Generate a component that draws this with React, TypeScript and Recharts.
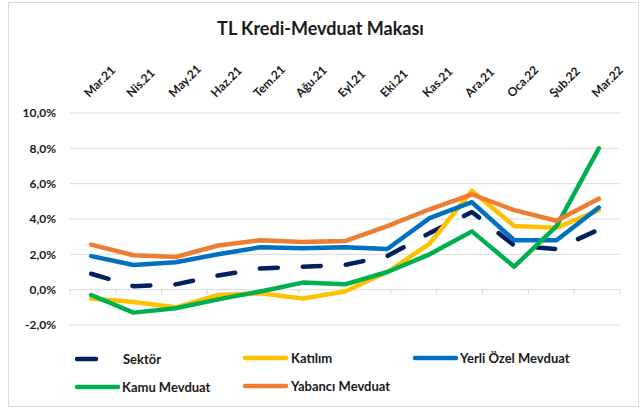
import {
  ComposedChart,
  Line,
  XAxis,
  YAxis,
  CartesianGrid,
  ReferenceLine,
  Legend,
} from "recharts";

const months = [
  "Mar.21", "Nis.21", "May.21", "Haz.21", "Tem.21", "Ağu.21", "Eyl.21",
  "Eki.21", "Kas.21", "Ara.21", "Oca.22", "Şub.22", "Mar.22",
];
const sektor = [0.9, 0.2, 0.3, 0.8, 1.2, 1.3, 1.4, 1.9, 3.2, 4.4, 2.5, 2.3, 3.4];
const katilim = [-0.5, -0.7, -1.0, -0.3, -0.2, -0.5, -0.1, 1.0, 2.6, 5.6, 3.6, 3.5, 4.5];
const yerliOzel = [1.9, 1.4, 1.55, 2.0, 2.4, 2.35, 2.4, 2.3, 4.05, 4.95, 2.8, 2.8, 4.65];
const kamu = [-0.3, -1.3, -1.05, -0.55, -0.1, 0.4, 0.3, 1.0, 2.0, 3.3, 1.3, 3.6, 8.0];
const yabanci = [2.55, 1.95, 1.85, 2.5, 2.8, 2.7, 2.75, 3.6, 4.55, 5.4, 4.5, 3.9, 5.15];
const yTicks = [-2, 0, 2, 4, 6, 8, 10];

const FONT = "Lato, Carlito, Calibri, 'Noto Sans', sans-serif";
const TEXT = "#1a1a1a";
const GRID = "#d9d9d9";

const SERIES = [
  { key: "sektor", name: "Sektör", color: "#002060", dash: "18 25" },
  { key: "katilim", name: "Katılım", color: "#FFC000" },
  { key: "yerli", name: "Yerli Özel Mevduat", color: "#0070C0" },
  { key: "kamu", name: "Kamu Mevduat", color: "#00B050" },
  { key: "yabanci", name: "Yabancı Mevduat", color: "#ED7D31" },
];

const data = months.map((m, i) => ({
  month: m,
  sektor: sektor[i],
  katilim: katilim[i],
  yerli: yerliOzel[i],
  kamu: kamu[i],
  yabanci: yabanci[i],
}));

// category boundaries for the little tick marks on the 0 line
const boundaries = months.map((_, i) => i).concat(months.length);

// legend item placement (left of sample, centre y, sample length, text left)
const LEGEND_POS: Record<string, { x: number; y: number; w: number; tx: number }> = {
  sektor: { x: 75, y: 359, w: 23, tx: 123 },
  katilim: { x: 243, y: 358, w: 45, tx: 291 },
  yerli: { x: 413, y: 358, w: 45, tx: 460 },
  kamu: { x: 75, y: 387, w: 45, tx: 122 },
  yabanci: { x: 243, y: 386, w: 45, tx: 291 },
};

const fmtPct = (v: number) => `${v.toFixed(1).replace(".", ",")}%`;

// eslint-disable-next-line @typescript-eslint/no-explicit-any
const MonthTick = (props: any) => {
  const { x, y, payload } = props;
  const ax = x - 2;
  const ay = y - 15;
  return (
    <text
      x={ax}
      y={ay}
      transform={`rotate(-45, ${ax}, ${ay})`}
      textAnchor="start"
      fill={TEXT}
      fontSize={12}
      fontWeight={700}
      fontFamily={FONT}
    >
      {payload.value}
    </text>
  );
};

const ChartLegend = () => (
  <div style={{ position: "relative", width: 644, height: 408 }}>
    {SERIES.map((s) => {
      const p = LEGEND_POS[s.key];
      return (
        <div key={s.key}>
          <svg
            width={p.w + 4}
            height={8}
            style={{ position: "absolute", left: p.x - 2, top: p.y - 4 }}
          >
            <line
              x1={4}
              y1={4}
              x2={p.w}
              y2={4}
              stroke={s.color}
              strokeWidth={4.5}
              strokeLinecap="round"
            />
          </svg>
          <span
            style={{
              position: "absolute",
              left: p.tx,
              top: p.y - 9,
              lineHeight: "18px",
              fontSize: 13,
              fontWeight: 700,
              fontFamily: FONT,
              color: TEXT,
              whiteSpace: "nowrap",
            }}
          >
            {s.name}
          </span>
        </div>
      );
    })}
  </div>
);

export default function App() {
  return (
    <div
      style={{
        position: "absolute",
        left: 0,
        top: 0,
        width: 644,
        height: 408,
        background: "#fff",
      }}
    >
      <div
        style={{
          position: "absolute",
          left: 8,
          top: 2,
          width: 629,
          height: 403,
          border: `1px solid ${GRID}`,
        }}
      />
      <div
        style={{
          position: "absolute",
          left: 0,
          top: 19,
          width: 641,
          textAlign: "center",
          fontFamily: FONT,
          fontWeight: 700,
          fontSize: 18,
          lineHeight: "18px",
          color: TEXT,
        }}
      >
        TL Kredi-Mevduat Makası
      </div>
      <ComposedChart
        width={644}
        height={408}
        data={data}
        margin={{ top: 0, right: 24, bottom: 83, left: 0 }}
      >
        <CartesianGrid vertical={false} stroke={GRID} strokeWidth={1} />
        <XAxis
          dataKey="month"
          orientation="top"
          scale="band"
          height={113}
          axisLine={false}
          tickLine={false}
          tickSize={0}
          tickMargin={0}
          interval={0}
          tick={<MonthTick />}
        />
        <XAxis xAxisId="n" type="number" domain={[0, months.length]} hide />
        <YAxis
          domain={[-2, 10]}
          ticks={yTicks}
          width={70}
          axisLine={false}
          tickLine={false}
          tickSize={0}
          tickMargin={14}
          tickFormatter={fmtPct}
          tick={{ fill: TEXT, fontSize: 12, fontWeight: 700, fontFamily: FONT }}
        />
        {boundaries.map((b) => (
          <ReferenceLine
            key={`tk-${b}`}
            xAxisId="n"
            segment={[
              { x: b, y: 0 },
              { x: b, y: -0.28 },
            ]}
            stroke={GRID}
            strokeWidth={1}
          />
        ))}
        {SERIES.map((s) => (
          <Line
            key={s.key}
            type="linear"
            dataKey={s.key}
            name={s.name}
            stroke={s.color}
            strokeWidth={4.5}
            strokeDasharray={s.dash}
            strokeLinecap="round"
            strokeLinejoin="round"
            dot={false}
            activeDot={false}
            isAnimationActive={false}
          />
        ))}
        <Legend
          layout="horizontal"
          verticalAlign="middle"
          align="center"
          wrapperStyle={{ top: 0, left: 0, width: 644, height: 408, pointerEvents: "none" }}
          content={<ChartLegend />}
        />
      </ComposedChart>
    </div>
  );
}
